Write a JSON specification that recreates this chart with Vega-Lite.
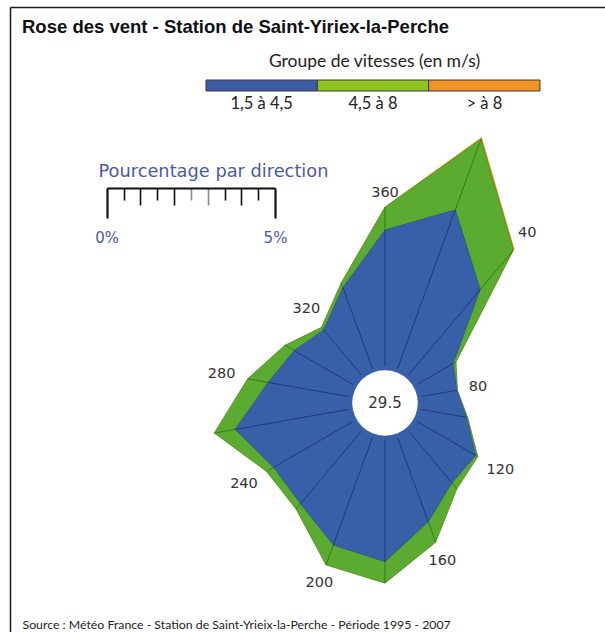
{
  "$schema": "https://vega.github.io/schema/vega-lite/v6.json",
  "width": 595,
  "height": 625,
  "autosize": {"type": "none"},
  "padding": {"left": 10, "top": 7, "right": 0, "bottom": 0},
  "background": "white",
  "config": {"view": {"stroke": null}, "axis": {"grid": false}},
  "title": {
    "text": "Rose des vent - Station de Saint-Yiriex-la-Perche",
    "anchor": "start",
    "frame": "group",
    "offset": -25,
    "dx": 12,
    "dy": 19,
    "font": "Liberation Sans",
    "fontSize": 18.5,
    "fontWeight": "bold",
    "color": "#111111",
    "baseline": "alphabetic"
  },
  "datasets": {
    "rose": [
      {"dir": 20, "v1": 5.02, "v2": 2.24, "v3": 0.06},
      {"dir": 40, "v1": 3.31, "v2": 1.54, "v3": 0.04},
      {"dir": 60, "v1": 1.24, "v2": 0.10, "v3": 0},
      {"dir": 80, "v1": 1.07, "v2": 0.02, "v3": 0},
      {"dir": 100, "v1": 1.36, "v2": 0.04, "v3": 0},
      {"dir": 120, "v1": 2.02, "v2": 0.07, "v3": 0},
      {"dir": 140, "v1": 2.00, "v2": 0.23, "v3": 0},
      {"dir": 160, "v1": 2.66, "v2": 0.65, "v3": 0},
      {"dir": 180, "v1": 3.62, "v2": 0.64, "v3": 0},
      {"dir": 200, "v1": 3.40, "v2": 0.63, "v3": 0},
      {"dir": 220, "v1": 2.81, "v2": 0.21, "v3": 0},
      {"dir": 240, "v1": 2.73, "v2": 0.24, "v3": 0},
      {"dir": 260, "v1": 3.43, "v2": 0.63, "v3": 0},
      {"dir": 280, "v1": 2.43, "v2": 0.62, "v3": 0},
      {"dir": 300, "v1": 2.02, "v2": 0.32, "v3": 0},
      {"dir": 320, "v1": 1.74, "v2": 0.10, "v3": 0},
      {"dir": 340, "v1": 2.56, "v2": 0.15, "v3": 0},
      {"dir": 360, "v1": 4.05, "v2": 0.68, "v3": 0.01}
    ],
    "calme": [{"calme": 29.5}],
    "classes": [
      {"classe": "1,5 à 4,5"},
      {"classe": "4,5 à 8"},
      {"classe": "> à 8"}
    ],
    "echelle": [{"p": 0}, {"p": 5}]
  },
  "layer": [
    {
      "data": {"name": "rose"},
      "transform": [
        {"calculate": "datum.dir * PI / 180", "as": "a"},
        {"calculate": "1.101", "as": "r0"},
        {"calculate": "datum.r0 + datum.v1", "as": "r1"},
        {"calculate": "datum.r1 + datum.v2", "as": "r2"},
        {"calculate": "datum.r2 + datum.v3", "as": "r3"},
        {"calculate": "datum.r0 * sin(datum.a)", "as": "x0"},
        {"calculate": "datum.r0 * cos(datum.a)", "as": "y0"},
        {"calculate": "datum.r1 * sin(datum.a)", "as": "x1"},
        {"calculate": "datum.r1 * cos(datum.a)", "as": "y1"},
        {"calculate": "datum.r2 * sin(datum.a)", "as": "x2"},
        {"calculate": "datum.r2 * cos(datum.a)", "as": "y2"},
        {"calculate": "datum.r3 * sin(datum.a)", "as": "x3"},
        {"calculate": "datum.r3 * cos(datum.a)", "as": "y3"}
      ],
      "layer": [
        {
          "mark": {"type": "line", "interpolate": "linear-closed", "fill": "#f39325", "stroke": "#f39325", "strokeWidth": 0},
          "encoding": {
            "x": {"field": "x3", "type": "quantitative", "scale": {"domain": [-11.1607, 6.5476], "nice": false, "zero": false}, "axis": null},
            "y": {"field": "y3", "type": "quantitative", "scale": {"domain": [-6.8155, 11.7857], "nice": false, "zero": false}, "axis": null},
            "order": {"field": "dir", "type": "quantitative"}
          }
        },
        {
          "mark": {"type": "line", "interpolate": "linear-closed", "fill": "#5aab2f", "stroke": "#3f8a22", "strokeWidth": 0.6},
          "encoding": {
            "x": {"field": "x2", "type": "quantitative", "scale": {"domain": [-11.1607, 6.5476], "nice": false, "zero": false}, "axis": null},
            "y": {"field": "y2", "type": "quantitative", "scale": {"domain": [-6.8155, 11.7857], "nice": false, "zero": false}, "axis": null},
            "order": {"field": "dir", "type": "quantitative"}
          }
        },
        {
          "mark": {"type": "line", "interpolate": "linear-closed", "fill": "#3760a9", "stroke": "#2a4a8c", "strokeWidth": 0.6},
          "encoding": {
            "x": {"field": "x1", "type": "quantitative", "scale": {"domain": [-11.1607, 6.5476], "nice": false, "zero": false}, "axis": null},
            "y": {"field": "y1", "type": "quantitative", "scale": {"domain": [-6.8155, 11.7857], "nice": false, "zero": false}, "axis": null},
            "order": {"field": "dir", "type": "quantitative"}
          }
        },
        {
          "mark": {"type": "rule", "stroke": "#1b2f66", "strokeWidth": 0.8},
          "encoding": {
            "x": {"field": "x0", "type": "quantitative", "scale": {"domain": [-11.1607, 6.5476], "nice": false, "zero": false}, "axis": null},
            "y": {"field": "y0", "type": "quantitative", "scale": {"domain": [-6.8155, 11.7857], "nice": false, "zero": false}, "axis": null},
            "x2": {"field": "x1"},
            "y2": {"field": "y1"}
          }
        },
        {
          "transform": [{"filter": "datum.v2 > 0.05"}],
          "mark": {"type": "rule", "stroke": "#2f6e18", "strokeWidth": 0.8},
          "encoding": {
            "x": {"field": "x1", "type": "quantitative", "scale": {"domain": [-11.1607, 6.5476], "nice": false, "zero": false}, "axis": null},
            "y": {"field": "y1", "type": "quantitative", "scale": {"domain": [-6.8155, 11.7857], "nice": false, "zero": false}, "axis": null},
            "x2": {"field": "x2"},
            "y2": {"field": "y2"}
          }
        },
        {
          "data": {"name": "calme"},
          "mark": {"type": "point", "filled": true, "fill": "white", "opacity": 1, "size": 4301, "shape": "circle", "strokeWidth": 0},
          "encoding": {
            "x": {"datum": 0, "type": "quantitative", "scale": {"domain": [-11.1607, 6.5476], "nice": false, "zero": false}, "axis": null},
            "y": {"datum": 0, "type": "quantitative", "scale": {"domain": [-6.8155, 11.7857], "nice": false, "zero": false}, "axis": null}
          }
        },
        {
          "data": {"name": "calme"},
          "mark": {"type": "text", "font": "DejaVu Sans", "fontSize": 15, "color": "#333333", "align": "center", "baseline": "middle"},
          "encoding": {
            "x": {"datum": 0, "type": "quantitative", "scale": {"domain": [-11.1607, 6.5476], "nice": false, "zero": false}, "axis": null},
            "y": {"datum": 0, "type": "quantitative", "scale": {"domain": [-6.8155, 11.7857], "nice": false, "zero": false}, "axis": null},
            "text": {"field": "calme", "type": "quantitative", "format": ".1f"}
          }
        },
        {
          "transform": [
            {"filter": "datum.dir % 40 == 0"},
            {"calculate": "datum.r3 + (9 + abs(sin(datum.a)) * length(toString(datum.dir)) * 5.6 + abs(cos(datum.a)) * 5) / 33.6", "as": "rl"},
            {"calculate": "datum.rl * sin(datum.a)", "as": "xl"},
            {"calculate": "datum.rl * cos(datum.a)", "as": "yl"}
          ],
          "mark": {"type": "text", "font": "DejaVu Sans", "fontSize": 14.5, "color": "#333333", "align": "center", "baseline": "middle"},
          "encoding": {
            "x": {"field": "xl", "type": "quantitative", "scale": {"domain": [-11.1607, 6.5476], "nice": false, "zero": false}, "axis": null},
            "y": {"field": "yl", "type": "quantitative", "scale": {"domain": [-6.8155, 11.7857], "nice": false, "zero": false}, "axis": null},
            "text": {"field": "dir", "type": "quantitative"}
          }
        }
      ]
    },
    {
      "data": {"name": "classes"},
      "mark": {"type": "rect", "stroke": "#3a3a3a", "strokeWidth": 1},
      "encoding": {
        "x": {"field": "classe", "type": "nominal", "sort": null,
          "scale": {"type": "band", "range": [196, 530], "paddingInner": 0, "paddingOuter": 0},
          "axis": {"orient": "bottom", "offset": -541, "domain": false, "ticks": false, "tickSize": 0, "labelAngle": 0,
            "labelFont": "Lato", "labelFontSize": 16.5, "labelColor": "#222222", "labelPadding": 4, "labelBaseline": "top",
            "title": "Groupe de vitesses (en m/s)", "titleFont": "Lato", "titleFontSize": 17.5, "titleFontWeight": "normal",
            "titleColor": "#222222", "titleX": 364, "titleY": -25, "titleAlign": "center", "titleBaseline": "alphabetic"}},
        "y": {"datum": 0, "type": "quantitative", "scale": {"domain": [0, 1], "range": [84, 73], "nice": false, "zero": false},
          "axis": {"orient": "left", "domain": false, "ticks": false, "labels": false, "grid": false,
            "title": "Source : Météo France - Station de Saint-Yrieix-la-Perche - Période 1995 - 2007",
            "titleAngle": 0, "titleFont": "Lato", "titleFontSize": 12.3, "titleFontWeight": "normal", "titleColor": "#222222",
            "titleX": 12, "titleY": 621, "titleAlign": "left", "titleBaseline": "alphabetic", "titleLimit": 0}},
        "y2": {"datum": 1},
        "color": {"field": "classe", "type": "nominal", "sort": null,
          "scale": {"domain": ["1,5 à 4,5", "4,5 à 8", "> à 8"], "range": ["#3d5ca6", "#8fc31f", "#f39325"]}, "legend": null}
      }
    },
    {
      "data": {"name": "echelle"},
      "mark": {"type": "point", "opacity": 0},
      "encoding": {
        "x": {"field": "p", "type": "quantitative",
          "scale": {"domain": [0, 5], "range": [96.7, 265], "nice": false, "zero": false},
          "axis": {"orient": "bottom", "offset": -444,
            "values": [0, 0.5, 1, 1.5, 2, 2.5, 3, 3.5, 4, 4.5, 5],
            "domain": true, "domainColor": "#111111", "domainWidth": 2,
            "ticks": true,
            "tickColor": {"condition": {"test": "datum.value == 2.5 || datum.value == 3", "value": "#8a8a8a"}, "value": "#111111"},
            "tickSize": {"condition": [{"test": "datum.value == 0 || datum.value == 5", "value": 30}, {"test": "datum.value % 1 == 0", "value": 17}], "value": 12},
            "tickWidth": {"condition": {"test": "datum.value == 0 || datum.value == 5", "value": 2.2}, "value": 1.6},
            "labelExpr": "datum.value == 0 ? '0%' : datum.value == 5 ? '5%' : ''",
            "labelFont": "DejaVu Sans", "labelFontSize": 15, "labelColor": "#4a5aa6", "labelPadding": 12,
            "labelBaseline": "top", "labelFlush": false, "labelOverlap": false,
            "title": "Pourcentage par direction", "titleFont": "DejaVu Sans", "titleFontSize": 17.8, "titleFontWeight": "normal",
            "titleColor": "#4a5aa6", "titleX": 88, "titleY": -12, "titleAlign": "left", "titleBaseline": "alphabetic"}},
        "y": {"datum": 0, "type": "quantitative", "scale": {"domain": [0, 1], "range": [625, 0], "nice": false, "zero": false},
          "axis": {"orient": "left", "domain": true, "domainColor": "#1a1a1a", "domainWidth": 1.5, "ticks": false, "labels": false, "grid": false, "title": null}}
      }
    },
    {
      "data": {"name": "calme"},
      "mark": {"type": "point", "opacity": 0},
      "encoding": {
        "x": {"datum": 0, "type": "quantitative", "scale": {"domain": [0, 1], "range": [0, 595], "nice": false, "zero": false},
          "axis": {"orient": "top", "domain": true, "domainColor": "#1a1a1a", "domainWidth": 1.5, "ticks": false, "labels": false, "grid": false, "title": null}}
      }
    }
  ],
  "resolve": {
    "scale": {"x": "independent", "y": "independent", "color": "independent"},
    "axis": {"x": "independent", "y": "independent"}
  }
}
